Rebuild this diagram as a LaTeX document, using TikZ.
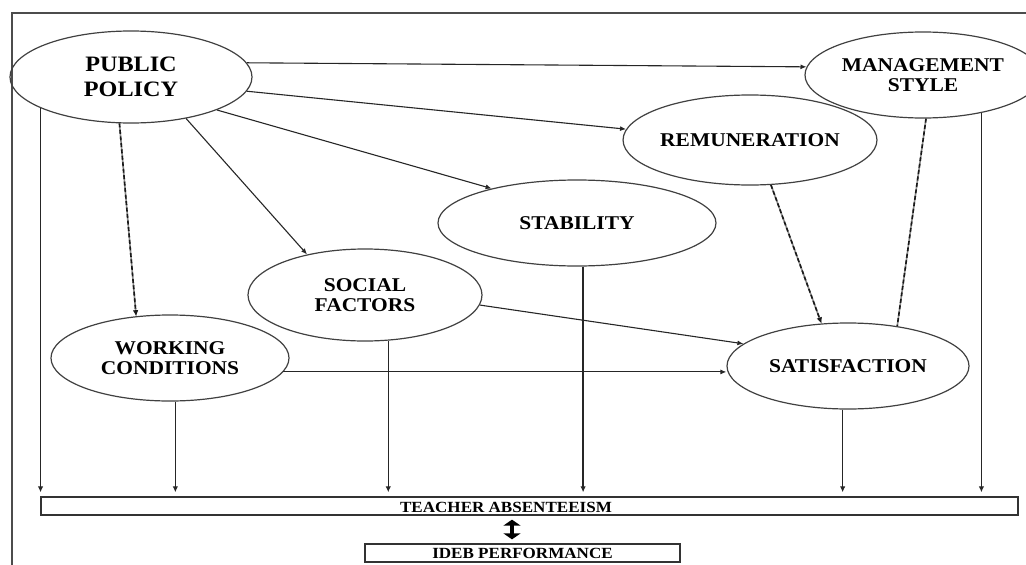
\documentclass[tikz,border=0pt]{standalone}
\usepackage{fontspec}
\setmainfont{Liberation Serif}[FakeStretch=1.1]
\usetikzlibrary{shapes.geometric,arrows.meta}
\begin{document}
\begin{tikzpicture}[x=1pt,y=-1pt,
  ell/.style={ellipse, draw=black!75, line width=1.2pt, inner sep=0pt, align=center,
    font=\bfseries\fontsize{19.5}{20}\selectfont},
  boxn/.style={rectangle, draw=black!80, line width=1.3pt, inner sep=0pt,
    font=\bfseries\fontsize{15.5}{16}\selectfont},
  arr/.style={draw=black!85, line width=1.1pt, -{Latex[length=6pt,width=5pt]}},
  varr/.style={draw=black!85, line width=1.5pt, -{Latex[length=6pt,width=5.5pt]}, shorten >=4pt},
  dline/.style={draw=black!45, line width=1.6pt,
    postaction={draw=black!90, line width=1.6pt, dash pattern=on 4pt off 2.5pt}},
  darr/.style={dline, -{Latex[length=6pt,width=5.5pt]}},
  dbl/.style={draw=black, line width=3.5pt, {Triangle[length=6pt,width=17pt]}-{Triangle[length=6pt,width=17pt]}, shorten >=4pt, shorten <=4pt},
  frame/.style={draw=black!70, line width=1.3pt}]
\useasboundingbox (0,0) rectangle (1026,565);

% frame
\coordinate (fb) at (12,565);
\coordinate (fc) at (12,13);
\coordinate (fr) at (1026,13);
\draw[frame] (fb) -- (fc) -- (fr);

% nodes
\node[ell, minimum width=242pt, minimum height=92pt,
  font=\bfseries\fontsize{22}{25.5}\selectfont] (pp) at (131,77) {PUBLIC\\POLICY};
\node[ell, minimum width=236pt, minimum height=86pt] (ms) at (923,75) {MANAGEMENT\\STYLE};
\node[ell, minimum width=250pt, minimum height=90pt] (rem) at (750,140) {REMUNERATION};
\node[ell, minimum width=278pt, minimum height=86pt] (stab) at (577,223) {STABILITY};
\node[ell, minimum width=234pt, minimum height=92pt] (soc) at (365,295) {SOCIAL\\FACTORS};
\node[ell, minimum width=238pt, minimum height=86pt] (wc) at (170,358) {WORKING\\CONDITIONS};
\node[ell, minimum width=242pt, minimum height=86pt] (sat) at (848,366) {SATISFACTION};

\node[boxn, minimum width=977pt, minimum height=18pt] (bar) at (529.5,506) {};
\node[boxn, draw=none] (bart) at (506,507) {TEACHER ABSENTEEISM};
\node[boxn, minimum width=315pt, minimum height=18pt] (ideb) at (522.5,553) {IDEB PERFORMANCE};

% connectors from public policy
\draw[arr] (pp.7) -- (ms.176);
\draw[arr] (pp.-7) -- (rem.175);
\draw[arr] (pp.-21.5) -- (stab.158);
\draw[arr] (pp.-37) -- (soc.145);
\draw[darr] (pp.-104) -- (wc.129);

% into satisfaction
\draw[darr] (rem.-65) -- (sat.122);
\draw[dline] (ms.-86) -- (sat.39);
\draw[arr] (soc.-5.4) -- (sat.168);
\draw[arr] (wc.-7) -- (wc.-7 -| sat.west);

% down to teacher absenteeism
\draw[varr] (pp.199) -- (pp.199 |- bar.north);
\draw[varr] (wc.-83) -- (wc.-83 |- bar.north);
\draw[varr] (soc.-63) -- (soc.-63 |- bar.north);
\draw[varr] (stab.-82) -- (stab.-82 |- bar.north);
\draw[varr] (sat.-97) -- (sat.-97 |- bar.north);
\draw[varr] (ms.-33) -- (ms.-33 |- bar.north);

% double arrow
\draw[dbl] ([xshift=-10.5pt]ideb.north) -- ([xshift=-10.5pt]ideb.north |- bar.south);
\end{tikzpicture}
\end{document}
